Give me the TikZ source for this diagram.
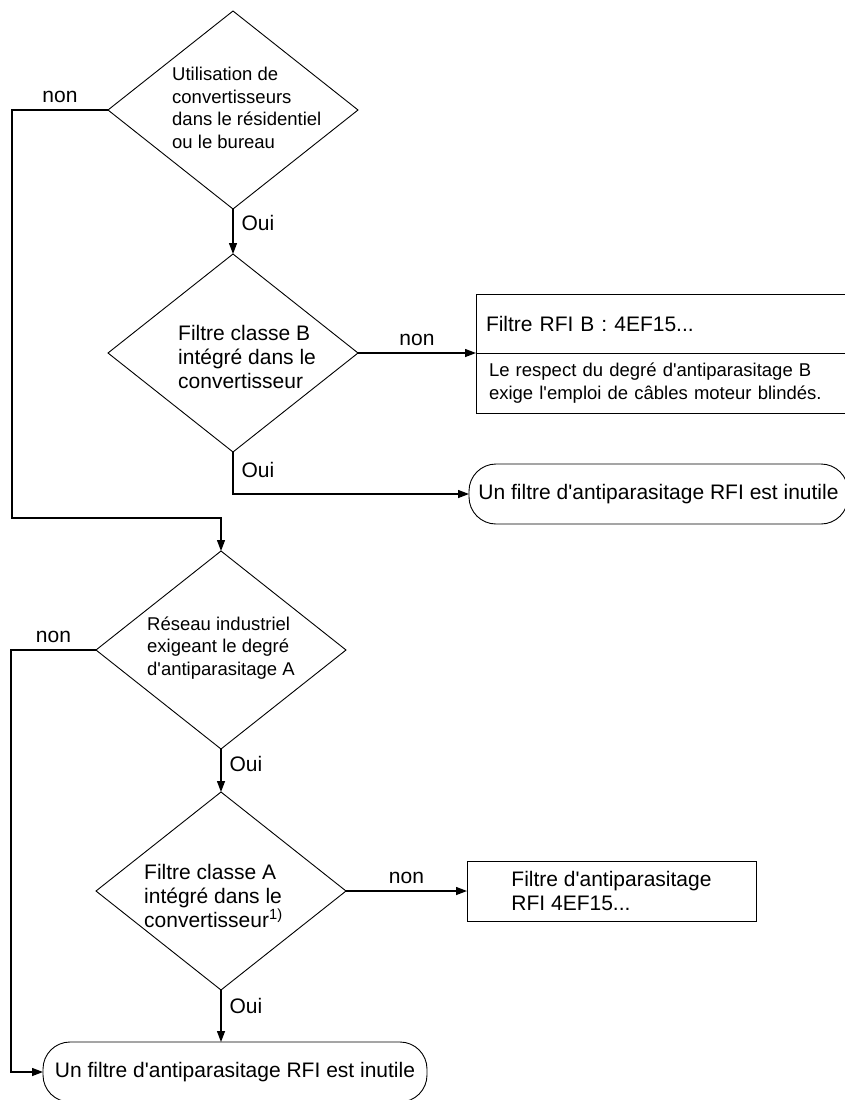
\documentclass[tikz,border=0pt]{standalone}
\usepackage{fontspec}
\usetikzlibrary{arrows.meta, positioning, shapes.geometric, calc}
\newfontfamily\flowfont{Liberation Sans}
\newcommand{\MainSize}{\flowfont\fontsize{21}{24}\selectfont}
\newcommand{\NoteSize}{\flowfont\fontsize{18.5}{22.5}\selectfont}
\tikzset{
    decision/.style={diamond, draw, line width=0.9pt, minimum width=250pt, minimum height=198pt, inner sep=0pt, outer sep=0pt},
    dtext/.style={align=left, inner sep=0pt},
    terminal/.style={rectangle, draw, line width=0.9pt, rounded corners=27pt, minimum height=60pt, inner sep=0pt, outer sep=0pt, font=\MainSize},
    rfibox/.style={rectangle, draw, line width=0.9pt, inner sep=0pt, outer sep=0pt, align=left},
    flow/.style={line width=1.3pt, -{Triangle[length=11pt, width=8pt]}},
    lbl/.style={font=\MainSize, inner sep=2pt},
}
\begin{document}
\begin{tikzpicture}[x=1pt, y=-1pt]
    \tikzset{
      node distance=44pt
    }
    \useasboundingbox (0,0) rectangle (844,1100);

    \node[decision] (d1) at (233,110) {};
    \node[dtext, anchor=west, font=\NoteSize] (d1t) at (172,108) {Utilisation de\\convertisseurs\\dans le résidentiel\\ou le bureau};

    \node[decision, below=45pt of d1] (d2) {};
    \node[dtext, anchor=west, font=\MainSize] (d2t) at (178,357) {Filtre classe B\\intégré dans le\\convertisseur};

    \node[rfibox, right=118pt of d2.east, anchor=south west, minimum height=59pt, text width=380pt, inner xsep=10pt, font=\MainSize] (b1a) {Filtre RFI B : 4EF15...};
    \node[rfibox, below=0pt of b1a.south west, anchor=north west, minimum height=60pt, text width=374pt, inner xsep=13pt, font=\NoteSize] (b1b) {Le respect du degré d'antiparasitage B\\exige l'emploi de câbles moteur blindés.};

    \node[terminal, minimum width=379pt, anchor=west] (t1) at (469,494) {Un filtre d'antiparasitage RFI est inutile};

    \node[decision] (d3) at (221,650) {};
    \node[dtext, anchor=west, font=\NoteSize] (d3t) at (147,648) {Réseau industriel\\exigeant le degré\\d'antiparasitage A};

    \node[decision, below=43pt of d3] (d4) {};
    \node[dtext, anchor=west, font=\MainSize] (d4t) at (144,896) {Filtre classe A\\intégré dans le\\convertisseur\textsuperscript{1)}};

    \node[rfibox, right=121pt of d4, minimum width=289pt, minimum height=60pt, font=\MainSize] (b2) {Filtre d'antiparasitage\\RFI 4EF15...};

    \node[terminal, minimum width=384pt] (t2) at (235,1072) {Un filtre d'antiparasitage RFI est inutile};

    \draw[flow] (d1.west) -- ++(-96,0) node[lbl, midway, above=5pt] {non} |- ([yshift=33pt]d3.north) -- (d3.north);
    \draw[flow] (d1.south) -- node[lbl, pos=0.3, right=6pt] {Oui} (d2.north);
    \draw[flow] (d2.east) -- node[lbl, midway, above=5pt] {non} (b1a.south west);
    \draw[flow] (d2.south) |- node[lbl, pos=0.22, right=6pt] {Oui} (t1.west);
    \draw[flow] (d3.west) -- ++(-85,0) node[lbl, midway, above=5pt] {non} |- (t2.west);
    \draw[flow] (d3.south) -- node[lbl, pos=0.35, right=6pt] {Oui} (d4.north);
    \draw[flow] (d4.east) -- node[lbl, midway, above=5pt] {non} (b2.west);
    \draw[flow] (d4.south) -- node[lbl, pos=0.3, right=6pt] {Oui} (d4.south |- t2.north);

  \end{tikzpicture}
\end{document}
